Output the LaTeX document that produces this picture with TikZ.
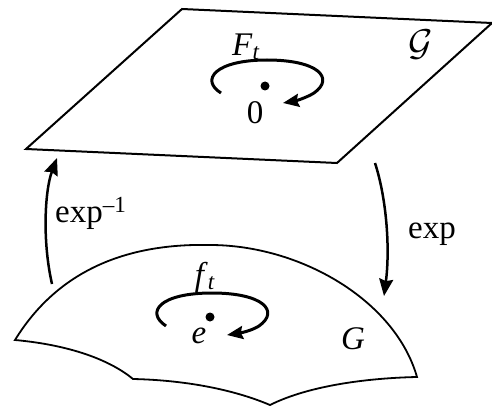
\documentclass[tikz,border=0pt]{standalone}
\usepackage{fontspec}
\setmainfont{Liberation Serif}
\usetikzlibrary{arrows.meta}

\begin{document}
\begin{tikzpicture}[x=1pt,y=-1pt,
  rim/.style={line width=2pt, line join=miter},
  spin/.style={line width=3pt, -{Stealth[length=16pt,width=13pt,inset=2pt]}},
  expmap/.style={line width=2.5pt, -{Stealth[length=17pt,width=14pt,inset=2pt]}},
  lbl/.style={font=\fontsize{33}{38}\selectfont, inner sep=0pt}]
\useasboundingbox (0,0) rectangle (492,406);
              %the algebra plane
\coordinate (pa) at (182,9);
\coordinate (pb) at (492,23);
\coordinate (pc) at (337,163);
\coordinate (pd) at (26,149);
\draw [rim] (pa) -- (pb) -- (pc) -- (pd) -- cycle;
\fill (265,86) circle (4.5pt) coordinate (zero);
\node [lbl] (zerolbl) at (255,113) {0};
\node [lbl] (Flbl) at (246,47) {\textit{F}\textsubscript{\textit{t}}};
\node [lbl] (alg) at (421,45) {\scalebox{1.5}{$\mathcal{G}$}};
\draw [spin] (221,93) .. controls (200,80) and (215,60) .. (267,60)
  .. controls (318,60) and (335,78) .. (314,93)
  .. controls (306,98) and (295,101) .. (283,103);
              %the group surface
\coordinate (ga) at (15,340);
\coordinate (gtop) at (210,245);
\coordinate (gb) at (417,377);
\coordinate (gc) at (270,405);
\coordinate (gd) at (133,379);
\draw [rim, line width=1.8pt] (ga) .. controls (55,275) and (120,243) .. (gtop)
  .. controls (300,245) and (395,300) .. (gb)
  .. controls (370,378) and (310,385) .. (gc)
  .. controls (230,388) and (180,380) .. (gd)
  .. controls (110,360) and (70,345) .. (ga) -- cycle;
\fill (210,317) circle (4.5pt) coordinate (unit);
\node [lbl] (elbl) at (199,336) {\textit{e}};
\node [lbl] (flbl) at (205,277) {\textit{f}\textsubscript{\textit{t}}};
\node [lbl] (grp) at (353,339) {\textit{G}};
\draw [spin] (166,326) .. controls (145,312) and (160,293) .. (212,293)
  .. controls (263,293) and (280,311) .. (259,326)
  .. controls (251,331) and (240,333) .. (227,335);
              %maps between them
\coordinate (logfrom) at (52,284);
\coordinate (logto) at (57,158);
\coordinate (expfrom) at (375,163);
\coordinate (expto) at (384,296);
\draw [expmap] (logfrom) .. controls (42,240) and (45,190) .. (logto);
\draw [expmap] (expfrom) .. controls (387,200) and (390,250) .. (expto);
\node [lbl, anchor=base west] (loglbl) at (55,222) {exp\textsuperscript{–1}};
\node [lbl, anchor=base west] (explbl) at (408,238) {exp};
\end{tikzpicture}
\end{document}
